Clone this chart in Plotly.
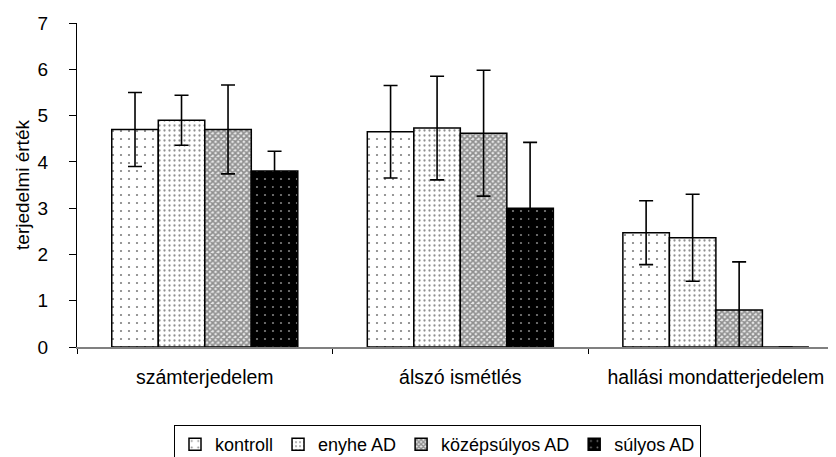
import plotly.graph_objects as go

categories = ["számterjedelem", "álszó ismétlés", "hallási mondatterjedelem"]
series_names = ["kontroll", "enyhe AD", "középsúlyos AD", "súlyos AD"]
kontroll = [4.7, 4.65, 2.47]
kontroll_err = [0.8, 1.0, 0.69]
enyhe = [4.9, 4.73, 2.36]
enyhe_err = [0.54, 1.12, 0.94]
kozep = [4.7, 4.62, 0.8]
kozep_err = [0.96, 1.36, 1.04]
sulyos = [3.8, 3.0, 0.0]
sulyos_err = [0.43, 1.42, 0.0]
y_ticks = [0, 1, 2, 3, 4, 5, 6, 7]

values = [kontroll, enyhe, kozep, sulyos]
errors = [kontroll_err, enyhe_err, kozep_err, sulyos_err]
patterns = [
    dict(shape=".", bgcolor="white", fgcolor="black", size=8, solidity=0.06),
    dict(shape=".", bgcolor="white", fgcolor="#222222", size=5, solidity=0.16),
    dict(shape="x", bgcolor="#e8e8e8", fgcolor="#333333", size=4, solidity=0.65),
    dict(shape=".", bgcolor="black", fgcolor="white", size=8, solidity=0.06),
]

FONT = "Arial, Liberation Sans, sans-serif"
W, H = 828, 449  # page body has an 8px margin

fig = go.Figure()
for name, v, e, p in zip(series_names, values, errors, patterns):
    fig.add_trace(go.Bar(
        name=name, x=categories, y=v,
        marker=dict(color=p["bgcolor"], pattern=p, line=dict(color="black", width=1.5)),
        error_y=dict(type="data", array=e, visible=True, color="black", thickness=1.6, width=7),
    ))

fig.update_layout(
    width=W, height=H,
    margin=dict(l=69, r=0, t=15, b=109.5, autoexpand=False),
    paper_bgcolor="white", plot_bgcolor="white",
    barmode="group", bargap=0.272, bargroupgap=0,
    font=dict(family=FONT, color="black", size=16),
    showlegend=True,
    legend=dict(
        orientation="h", x=(174 - 8) / W, xref="container", xanchor="left",
        y=1 - (425 - 8) / H, yref="container", yanchor="top",
        bordercolor="black", borderwidth=1, bgcolor="white",
        font=dict(family=FONT, size=18, color="black"),
        traceorder="normal", itemwidth=30, tracegroupgap=0,
    ),
    xaxis=dict(
        type="category", range=[-0.5, 2.47], automargin=False,
        showline=True, linecolor="#808080", linewidth=1.5,
        ticks="outside", tickson="boundaries", ticklen=5, tickcolor="black", tickwidth=1.2,
        showgrid=False, zeroline=False,
        tickfont=dict(family=FONT, size=19.5, color="black"),
        ticklabelstandoff=12,
    ),
    yaxis=dict(
        range=[0, 7], tickvals=y_ticks, automargin=False,
        showline=True, linecolor="black", linewidth=1.2,
        ticks="outside", ticklen=7, tickcolor="black", tickwidth=1.2,
        showgrid=False, zeroline=False,
        tickfont=dict(family=FONT, size=19, color="black"),
        ticklabelstandoff=17,
        title=dict(text="terjedelmi érték", font=dict(family=FONT, size=19, color="black"), standoff=2),
    ),
)

fig.write_html("out.html")
